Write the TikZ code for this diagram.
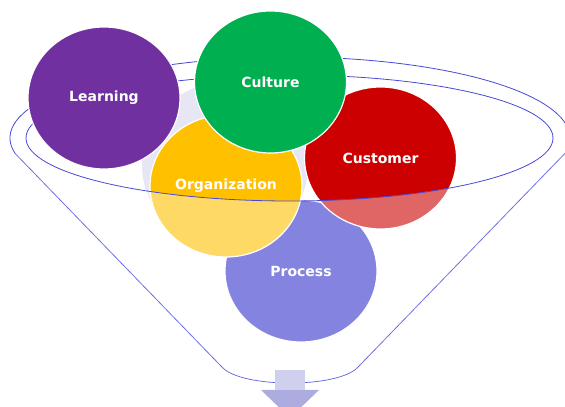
\documentclass[tikz,border=0pt]{standalone}
\usepackage{fontspec}
\setmainfont{DejaVu Sans}
\usepackage{xcolor}
\usetikzlibrary{shapes.geometric}
\definecolor{learningcol}{HTML}{7030A0}
\definecolor{culturecol}{HTML}{00B050}
\definecolor{customercol}{HTML}{CC0000}
\definecolor{orgcol}{HTML}{FFC000}
\definecolor{processcol}{HTML}{3333CC}
\definecolor{gapcol}{HTML}{E6E6F5}
\definecolor{funnelblue}{RGB}{72,72,214}
\definecolor{shaftcol}{HTML}{CFCFEE}
\definecolor{headcol}{HTML}{ACACE0}
\tikzstyle{ball} = [ellipse, 
minimum width=152pt, 
minimum height=142pt, 
inner sep=0pt, 
text centered, 
draw=white, 
line width=1.2pt, 
text=white, 
font=\fontsize{14}{16}\selectfont\bfseries]
\tikzstyle{rim} = [draw=funnelblue, line width=0.8pt]
\tikzstyle{front} = [white, fill opacity=0.4]

\begin{document}
\begin{tikzpicture}[x=1pt, y=1pt]
  \useasboundingbox (0,0) rectangle (565,407);

  \coordinate (topleft) at (14.96,253.8);
  \coordinate (topright) at (565.04,253.8);
  \coordinate (lowleft) at (222,40);
  \coordinate (lowright) at (358,40);
  \coordinate (lipleft) at (26,269);
  \coordinate (lipright) at (553,269);

  \draw [rim] (topleft) arc [start angle=190.8, end angle=-10.8, x radius=280, y radius=81]
    -- (lowright) .. controls (348,29) and (318,24) .. (290,24)
    .. controls (262,24) and (232,29) .. (lowleft) -- cycle;
  \draw [rim] (lipright) arc [start angle=0, end angle=180, x radius=263.5, y radius=63];

  \node (gap) [circle, fill=gapcol, minimum size=166pt] at (225,242) {};

  \node (process) [ball, fill=processcol] at (301,136) {Process};
  \node (learning) [ball, fill=learningcol] at (104,309) {Learning};
  \node (org) [ball, fill=orgcol] at (226,221) {Organization};
  \node (customer) [ball, fill=customercol] at (380.5,249) {Customer};
  \node (culture) [ball, fill=culturecol] at (270.5,325) {Culture};

  \fill [front] (lipleft) -- (topleft) -- (lowleft) .. controls (232,29) and (262,24) .. (290,24)
    .. controls (318,24) and (348,29) .. (lowright) -- (topright) -- (lipright)
    arc [start angle=0, end angle=-180, x radius=263.5, y radius=63] -- cycle;
  \draw [rim] (lipright) arc [start angle=0, end angle=-180, x radius=263.5, y radius=63];

  \fill [headcol] (275,17) -- (261,17) -- (290,-11) -- (319,17) -- (305,17) -- cycle;
  \fill [shaftcol] (275,17) rectangle (305,37);

\end{tikzpicture}
\end{document}
